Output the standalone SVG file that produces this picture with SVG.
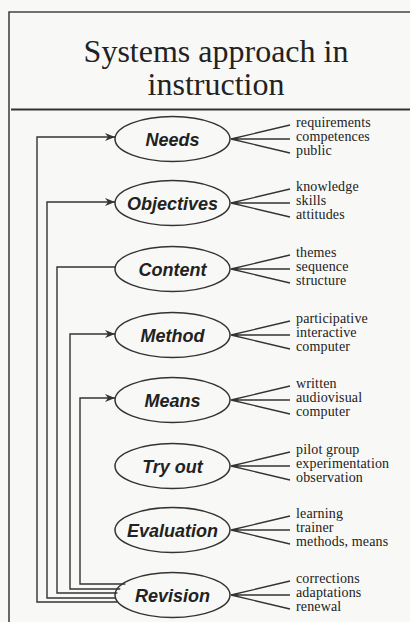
<svg xmlns="http://www.w3.org/2000/svg" width="410" height="622" viewBox="0 0 410 622">
<defs>
<style>
.bg{fill:#f8f8f6}
.frame{fill:none;stroke:#444;stroke-width:1.6}
.title{font-family:"Liberation Serif","Times New Roman",serif;font-size:32px;fill:#222;text-anchor:middle}
.node ellipse{fill:none;stroke:#333;stroke-width:1.5}
.node .lbl{font-family:"Liberation Sans",Arial,sans-serif;font-weight:bold;font-style:italic;font-size:18px;fill:#222;text-anchor:middle}
.node .fan{fill:none;stroke:#333;stroke-width:1.3}
.node .item{font-family:"Liberation Serif","Times New Roman",serif;font-size:14px;letter-spacing:0.15px;fill:#222}
.conn path{fill:none;stroke:#333;stroke-width:1.4}
</style>
<marker id="arr" viewBox="0 0 10 8" refX="10" refY="4" markerWidth="10" markerHeight="8" markerUnits="userSpaceOnUse" orient="auto">
<path d="M0,0 L10,4 L0,8 L3,4 Z" fill="#333"/>
</marker>
</defs>
<rect class="bg" x="0" y="0" width="410" height="622"/>
<path class="frame" d="M9,622 V12 H410"/>
<path d="M11,109.5 H410" stroke="#333" stroke-width="2" fill="none"/>
<text class="title" x="216" y="62">Systems approach in</text>
<text class="title" x="216" y="95">instruction</text>

<g id="connectors" class="conn">
<path d="M125.4,584 H80 V398 H115" marker-end="url(#arr)"/>
<path d="M120.3,589 H70 V334 H115" marker-end="url(#arr)"/>
<path d="M117.4,593 H57 V267 H116"/>
<path d="M116.0,598 H47 V202 H115" marker-end="url(#arr)"/>
<path d="M117.1,602 H37 V137 H115" marker-end="url(#arr)"/>
</g>

<g id="needs" class="node">
<ellipse cx="172.5" cy="139" rx="57.5" ry="22.5"/>
<text class="lbl" x="172.5" y="145.5">Needs</text>
<path class="fan" d="M231,139 L290,125 M231,139 H290 M231,139 L290,153"/>
<text class="item" x="296" y="127">requirements</text>
<text class="item" x="296" y="141">competences</text>
<text class="item" x="296" y="155">public</text>
</g>

<g id="objectives" class="node">
<ellipse cx="172.5" cy="203" rx="57.5" ry="22.5"/>
<text class="lbl" x="172.5" y="209.5">Objectives</text>
<path class="fan" d="M231,203 L290,189 M231,203 H290 M231,203 L290,217"/>
<text class="item" x="296" y="191">knowledge</text>
<text class="item" x="296" y="205">skills</text>
<text class="item" x="296" y="219">attitudes</text>
</g>

<g id="content" class="node">
<ellipse cx="172.5" cy="269" rx="57.5" ry="22.5"/>
<text class="lbl" x="172.5" y="275.5">Content</text>
<path class="fan" d="M231,269 L290,255 M231,269 H290 M231,269 L290,283"/>
<text class="item" x="296" y="257">themes</text>
<text class="item" x="296" y="271">sequence</text>
<text class="item" x="296" y="285">structure</text>
</g>

<g id="method" class="node">
<ellipse cx="172.5" cy="335" rx="57.5" ry="22.5"/>
<text class="lbl" x="172.5" y="341.5">Method</text>
<path class="fan" d="M231,335 L290,321 M231,335 H290 M231,335 L290,349"/>
<text class="item" x="296" y="323">participative</text>
<text class="item" x="296" y="337">interactive</text>
<text class="item" x="296" y="351">computer</text>
</g>

<g id="means" class="node">
<ellipse cx="172.5" cy="400" rx="57.5" ry="22.5"/>
<text class="lbl" x="172.5" y="406.5">Means</text>
<path class="fan" d="M231,400 L290,386 M231,400 H290 M231,400 L290,414"/>
<text class="item" x="296" y="388">written</text>
<text class="item" x="296" y="402">audiovisual</text>
<text class="item" x="296" y="416">computer</text>
</g>

<g id="tryout" class="node">
<ellipse cx="172.5" cy="466" rx="57.5" ry="22.5"/>
<text class="lbl" x="172.5" y="472.5">Try out</text>
<path class="fan" d="M231,466 L290,452 M231,466 H290 M231,466 L290,480"/>
<text class="item" x="296" y="454">pilot group</text>
<text class="item" x="296" y="468">experimentation</text>
<text class="item" x="296" y="482">observation</text>
</g>

<g id="evaluation" class="node">
<ellipse cx="172.5" cy="530" rx="57.5" ry="22.5"/>
<text class="lbl" x="172.5" y="536.5">Evaluation</text>
<path class="fan" d="M231,530 L290,516 M231,530 H290 M231,530 L290,544"/>
<text class="item" x="296" y="518">learning</text>
<text class="item" x="296" y="532">trainer</text>
<text class="item" x="296" y="546">methods, means</text>
</g>

<g id="revision" class="node">
<ellipse cx="172.5" cy="595" rx="57.5" ry="22.5"/>
<text class="lbl" x="172.5" y="601.5">Revision</text>
<path class="fan" d="M231,595 L290,581 M231,595 H290 M231,595 L290,609"/>
<text class="item" x="296" y="583">corrections</text>
<text class="item" x="296" y="597">adaptations</text>
<text class="item" x="296" y="611">renewal</text>
</g>
</svg>
